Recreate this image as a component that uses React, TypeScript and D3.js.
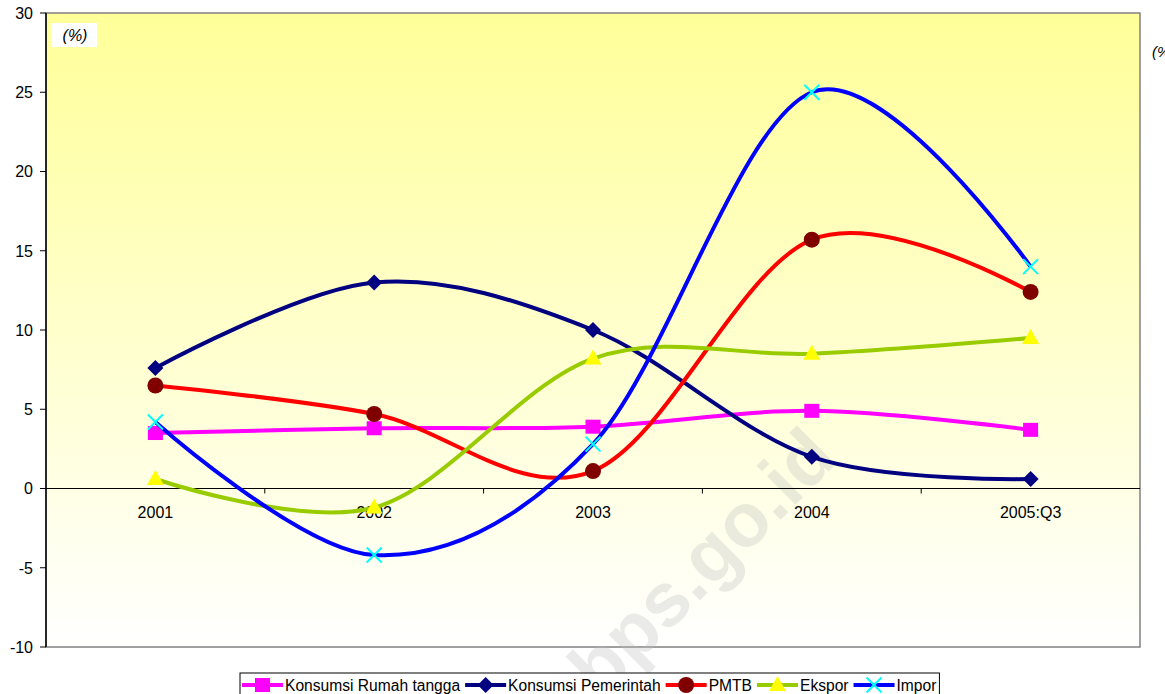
import React, { useEffect, useRef } from 'react';
import * as d3 from 'd3';

const years = ['2001', '2002', '2003', '2004', '2005:Q3'];
const rumahTangga = [3.5, 3.8, 3.9, 4.9, 3.7];
const pemerintah = [7.6, 13.0, 10.0, 2.0, 0.6];
const pmtb = [6.5, 4.7, 1.1, 15.7, 12.4];
const ekspor = [0.6, -1.2, 8.2, 8.5, 9.5];
const impor = [4.2, -4.2, 2.8, 25.0, 14.0];
const yTicks = [-10, -5, 0, 5, 10, 15, 20, 25, 30];

const series = [
  { name: 'Konsumsi Rumah tangga', values: rumahTangga, line: '#FF00FF', marker: 'square', fill: '#FF00FF' },
  { name: 'Konsumsi Pemerintah', values: pemerintah, line: '#000080', marker: 'diamond', fill: '#000080' },
  { name: 'PMTB', values: pmtb, line: '#FF0000', marker: 'circle', fill: '#800000' },
  { name: 'Ekspor', values: ekspor, line: '#99CC00', marker: 'triangle', fill: '#FFFF00' },
  { name: 'Impor', values: impor, line: '#0000FF', marker: 'x', fill: '#00FFFF' },
];

const W = 1165, H = 694;
const font = 'Arial, "Liberation Sans", sans-serif';

function drawMarker(g: any, type: string, cx: number, cy: number, fill: string) {
  if (type === 'square') {
    g.append('rect').attr('x', cx - 7.5).attr('y', cy - 7).attr('width', 15).attr('height', 14).attr('fill', fill);
  } else if (type === 'diamond') {
    g.append('path').attr('d', `M${cx},${cy - 8}L${cx + 8},${cy}L${cx},${cy + 8}L${cx - 8},${cy}Z`).attr('fill', fill);
  } else if (type === 'circle') {
    g.append('circle').attr('cx', cx).attr('cy', cy).attr('r', 8).attr('fill', fill);
  } else if (type === 'triangle') {
    g.append('path').attr('d', `M${cx},${cy - 9}L${cx + 8.5},${cy + 6}L${cx - 8.5},${cy + 6}Z`).attr('fill', fill);
  } else {
    g.append('path').attr('d', `M${cx - 7.5},${cy - 7.5}L${cx + 7.5},${cy + 7.5}M${cx + 7.5},${cy - 7.5}L${cx - 7.5},${cy + 7.5}`)
      .attr('stroke', fill).attr('stroke-width', 2).attr('fill', 'none');
  }
}

export default function App() {
  const ref = useRef<SVGSVGElement>(null);

  useEffect(() => {
    const svg = d3.select(ref.current);
    svg.selectAll('*').remove();

    const margin = { top: 13, right: 25, bottom: 46, left: 46 };
    const x = d3.scaleBand().domain(years).range([margin.left, W - margin.right]);
    const y = d3.scaleLinear().domain([-10, 30]).range([H - margin.bottom - 1, margin.top]);
    const cx = (d: string) => (x(d) as number) + x.bandwidth() / 2;

    const defs = svg.append('defs');
    const grad = defs.append('linearGradient').attr('id', 'bg').attr('x1', 0).attr('y1', 0).attr('x2', 0).attr('y2', 1);
    grad.append('stop').attr('offset', '0%').attr('stop-color', '#FFFF99');
    grad.append('stop').attr('offset', '100%').attr('stop-color', '#FFFFFF');

    const x0 = margin.left, x1 = W - margin.right;
    const yTop = y(30), yBot = y(-10);

    svg.append('rect').attr('x', x0).attr('y', yTop).attr('width', x1 - x0).attr('height', yBot - yTop)
      .attr('fill', 'url(#bg)').attr('stroke', '#808080').attr('stroke-width', 1.5);

    // watermark
    svg.append('text').attr('transform', 'translate(706,566) rotate(-45)')
      .attr('text-anchor', 'middle').attr('dominant-baseline', 'middle')
      .attr('font-family', font).attr('font-weight', 'bold').attr('font-size', 76)
      .attr('fill', '#BDBDBD').attr('opacity', 0.3).text('bps.go.id');

    // y axis
    svg.append('line').attr('x1', x0).attr('x2', x0).attr('y1', yTop).attr('y2', yBot).attr('stroke', '#000').attr('stroke-width', 1.5);
    const yg = svg.append('g');
    yTicks.forEach(t => {
      yg.append('line').attr('x1', x0 - 6).attr('x2', x0).attr('y1', y(t)).attr('y2', y(t)).attr('stroke', '#000');
      yg.append('text').attr('x', 33).attr('y', y(t)).attr('dy', '0.36em').attr('text-anchor', 'end')
        .attr('font-family', font).attr('font-size', 16).text(t);
    });

    // x axis at zero
    const y0 = y(0);
    svg.append('line').attr('x1', x0).attr('x2', x1).attr('y1', y0).attr('y2', y0).attr('stroke', '#000').attr('stroke-width', 1.2);
    years.forEach((d, i) => {
      if (i > 0) {
        const bx = x(d) as number;
        svg.append('line').attr('x1', bx).attr('x2', bx).attr('y1', y0).attr('y2', y0 + 5).attr('stroke', '#000');
      }
      svg.append('text').attr('x', cx(d)).attr('y', y0 + 29).attr('text-anchor', 'middle')
        .attr('font-family', font).attr('font-size', 16).text(d);
    });

    // unit label
    svg.append('rect').attr('x', 51).attr('y', 23).attr('width', 46).attr('height', 24).attr('fill', '#fff');
    svg.append('text').attr('x', 75).attr('y', 41).attr('text-anchor', 'middle').attr('font-style', 'italic')
      .attr('font-family', font).attr('font-size', 16).text('(%)');
    svg.append('text').attr('x', 1152).attr('y', 57).attr('font-style', 'italic')
      .attr('font-family', font).attr('font-size', 15).text('(%)');

    // series
    const line = d3.line<number>().x((_, i) => cx(years[i])).y(v => y(v)).curve(d3.curveCardinal.tension(0));
    series.forEach(s => {
      const g = svg.append('g');
      g.append('path').attr('d', line(s.values) as string).attr('fill', 'none')
        .attr('stroke', s.line).attr('stroke-width', 4).attr('stroke-linejoin', 'round');
      s.values.forEach((v, i) => drawMarker(g, s.marker, cx(years[i]), y(v), s.fill));
    });

    // legend
    const lg = svg.append('g');
    const box = lg.append('rect').attr('x', 240).attr('y', 673).attr('height', 30).attr('fill', '#fff')
      .attr('stroke', '#000').attr('stroke-width', 1);
    let lx = 242;
    const ly = 685;
    series.forEach(s => {
      lg.append('line').attr('x1', lx).attr('x2', lx + 41).attr('y1', ly).attr('y2', ly)
        .attr('stroke', s.line).attr('stroke-width', 4);
      drawMarker(lg, s.marker, lx + 20.5, ly, s.fill);
      const t = lg.append('text').attr('x', lx + 43).attr('y', ly + 6)
        .attr('font-family', font).attr('font-size', 15.6).text(s.name);
      const w = (t.node() as SVGTextElement).getComputedTextLength();
      lx += 43 + w + 5;
    });
    box.attr('width', lx - 240 - 2);
  }, []);

  return (
    <svg ref={ref} width={W} height={H}
      style={{ position: 'absolute', left: 0, top: 0, background: '#fff' }} />
  );
}
